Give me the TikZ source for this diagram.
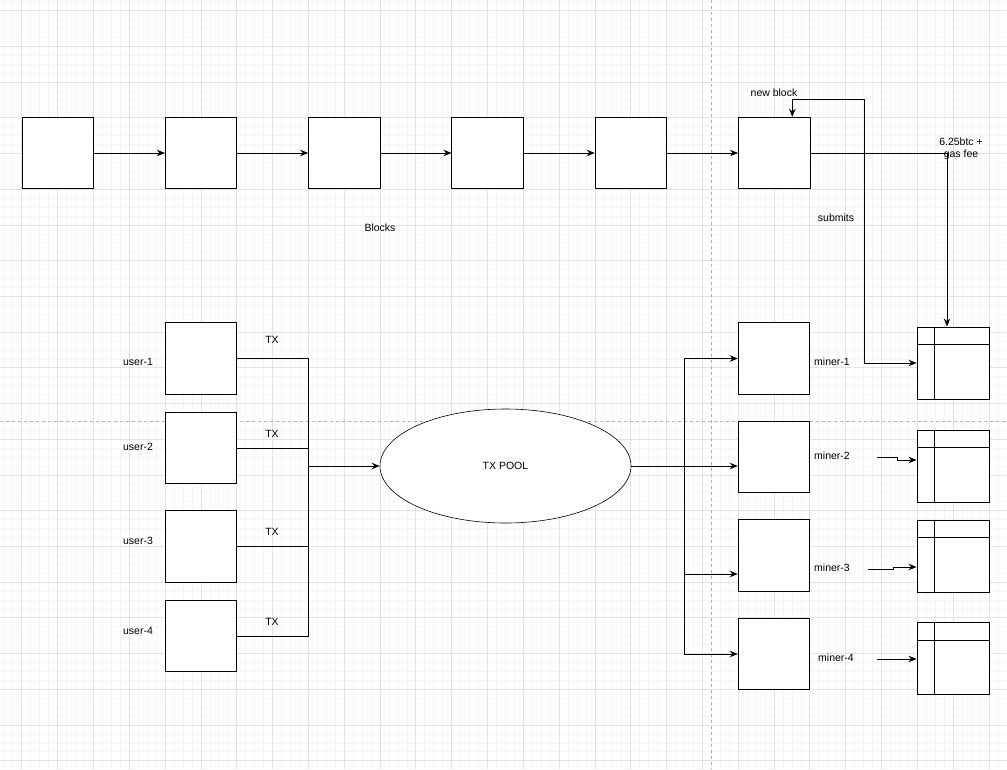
\documentclass[tikz,border=0pt]{standalone}
\usepackage{fontspec}
\setmainfont{Liberation Sans}
\usetikzlibrary{positioning,shapes.geometric,arrows.meta}
\begin{document}
\begin{tikzpicture}[x=1pt,y=-1pt,>={Stealth[length=8pt,width=6.5pt]},
	line width=0.9pt,node distance=143.3pt,font=\fontsize{10.5}{12}\selectfont,
	block/.style = {rectangle,draw,fill=white,minimum size=71.6pt,inner sep=0pt},
	ledger/.style = {rectangle,draw,fill=white,minimum width=72pt,minimum height=72pt,inner sep=0pt},
	txt/.style = {inner sep=0pt,align=center},
	minor/.style = {black!3.5,line width=0.5pt},
	major/.style = {black!11,line width=0.6pt}]
	\useasboundingbox (0,0) rectangle (1007,769);
	% grid
	\foreach \k in {-2,...,110} \draw[minor] ({21.7+\k*8.955},0) -- ({21.7+\k*8.955},769);
	\foreach \k in {-1,...,85} \draw[minor] (0,{10.5+\k*8.93}) -- (1007,{10.5+\k*8.93});
	\foreach \k in {0,...,27} \draw[major] ({21.7+\k*35.82},0) -- ({21.7+\k*35.82},769);
	\foreach \k in {0,...,21} \draw[major] (0,{10.5+\k*35.72}) -- (1007,{10.5+\k*35.72});
	\draw[black!30,line width=0.6pt,dashed] (711.5,0) -- (711.5,769);
	\draw[black!30,line width=0.6pt,dashed] (0,421) -- (1007,421);
	
	% chain of blocks
	\node[block] (b1) at (57.8,153) {};
	\node[block] [right of = b1] (b2) {};
	\node[block] [right of = b2] (b3) {};
	\node[block] [right of = b3] (b4) {};
	\node[block] [right of = b4] (b5) {};
	\node[block] [right of = b5] (b6) {};
	\node[txt] at (380,228) (blk) {Blocks};
	
	% users
	\node[block] at (201,358.5) (u1) {};
	\node[block] at (201,448) (u2) {};
	\node[block] at (201,546.5) (u3) {};
	\node[block] at (201,636) (u4) {};
	\node[txt] at (138,362) (ul1) {user-1};
	\node[txt] at (138,447) (ul2) {user-2};
	\node[txt] at (138,541) (ul3) {user-3};
	\node[txt] at (138,631) (ul4) {user-4};
	\node[txt] at (272,340) (tx1) {TX};
	\node[txt] at (272,434) (tx2) {TX};
	\node[txt] at (272,532) (tx3) {TX};
	\node[txt] at (272,622) (tx4) {TX};
	
	\node[ellipse,draw,fill=white,line width=0.6pt,minimum width=251pt,minimum height=114pt,inner sep=0pt] at (505.5,466) (pool) {TX POOL};
	
	% miners
	\node[block] at (774,358.5) (m1) {};
	\node[block] at (774,457) (m2) {};
	\node[block] at (774,555.5) (m3) {};
	\node[block] at (774,654) (m4) {};
	\node[txt] at (832,362) (ml1) {miner-1};
	\node[txt] at (832,456) (ml2) {miner-2};
	\node[txt] at (832,568) (ml3) {miner-3};
	\node[txt] at (836,658) (ml4) {miner-4};
	
	\node[ledger] at (953,363) (t1) {};
	\node[ledger] at (953,466) (t2) {};
	\node[ledger] at (953,556) (t3) {};
	\node[ledger] at (953,658.5) (t4) {};
	\foreach \t in {t1,t2,t3,t4} {
		\draw ([xshift=18pt]\t.north west) -- ([xshift=18pt]\t.south west);
		\draw ([yshift=-18pt]\t.north west) -- ([yshift=-18pt]\t.north east);
	}
	
	\node[txt] at (774,93) (nbl) {new block};
	\node[txt] at (836,218) (sub) {submits};
	\node[txt] at (961,149) (fee) {6.25btc +\\gas fee};
	
	\coordinate (tx) at (308,466);
	\coordinate (mx) at (684,466);
	\coordinate (nb) at (864,99);
	\coordinate (s2) at (877,457);
	\coordinate (s3) at (868,569);
	\coordinate (s4) at (877,659);
	
	\path[->]
	(b1) edge (b2)
	(b2) edge (b3)
	(b3) edge (b4)
	(b4) edge (b5)
	(b5) edge (b6);
	\draw[->] (b6.east) -| ([xshift=-6pt]t1.north);
	\draw[<->] ([xshift=18pt]b6.north) |- (nb) |- (t1.west);
	
	\draw (u1.east) -| (tx);
	\draw (u2.east) -| (tx);
	\draw (u3.east) -| (tx);
	\draw (u4.east) -| (tx);
	\draw[->] (tx) -- (pool.west);
	
	\draw (pool.east) -- (mx);
	\draw[->] (mx) |- (m1.west);
	\draw[->] (mx) -- (m2.west |- mx);
	\draw[->] (mx) |- ([yshift=-18.5pt]m3.west);
	\draw[->] (mx) |- (m4.west);
	
	\draw[->] (s2) -- ++(20,0) |- ([yshift=6pt]t2.west);
	\draw[->] (s3) -- ++(25,0) |- ([yshift=-11pt]t3.west);
	\draw[->] (s4) -- (t4.west |- s4);
\end{tikzpicture}
\end{document}
